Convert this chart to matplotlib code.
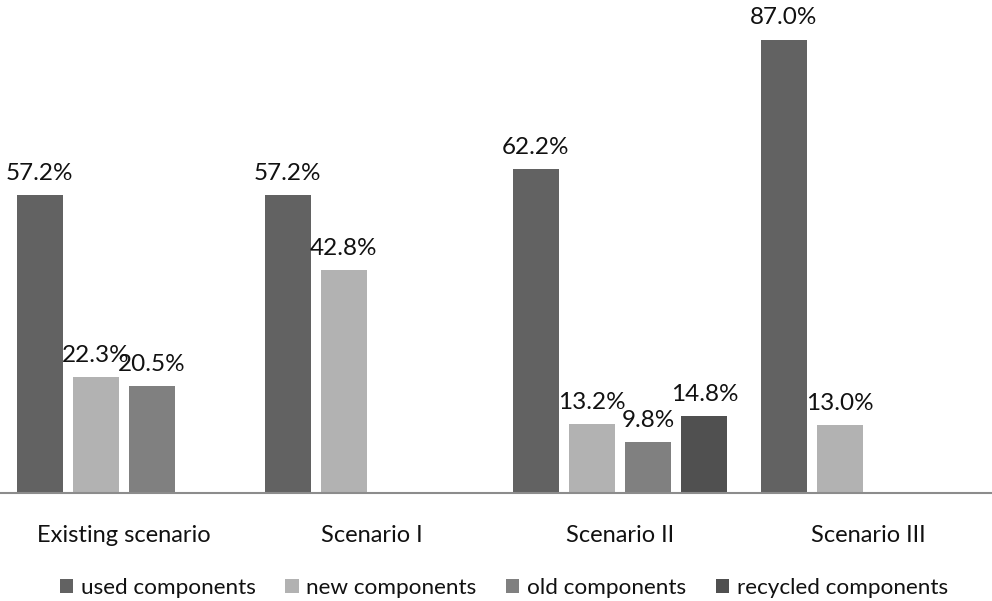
import numpy as np
from matplotlib import pyplot as plt

plt.rcParams['font.family'] = ['Lato', 'DejaVu Sans']

scenarios = ['Existing scenario', 'Scenario I', 'Scenario II', 'Scenario III']
series = ['used components', 'new components', 'old components', 'recycled components']
colors = ['#626262', '#b2b2b2', '#808080', '#505050']

# None = no bar in that slot
used = [57.2, 57.2, 62.2, 87.0]
new = [22.3, 42.8, 13.2, 13.0]
old = [20.5, None, 9.8, None]
recycled = [None, None, 14.8, None]
values = [used, new, old, recycled]

fig = plt.figure(figsize=(9.92, 6.01), dpi=100)
ax = fig.add_axes([0.0, 0.1797, 1.0, 0.8203])

x = np.arange(len(scenarios))
pitch = 0.2268
width = 0.186

for k in range(len(series)):
    xs = []
    hs = []
    for i in range(len(scenarios)):
        if values[k][i] is not None:
            xs.append(x[i] + (k - 1.5) * pitch)
            hs.append(values[k][i])
    ax.bar(xs, hs, width, color=colors[k], label=series[k])
    for xx, hh in zip(xs, hs):
        ax.annotate(f'{hh:.1f}%', (xx, hh), xytext=(0, 8), textcoords='offset points',
                    ha='center', va='bottom', fontsize=17.5, color='#111111')

ax.set_xlim(-0.5, 3.5)
ax.set_ylim(0, 94.6)
ax.set_yticks([])
ax.set_xticks(x)
ax.set_xticklabels(scenarios, fontsize=17, color='#111111')
ax.tick_params(axis='x', length=0, pad=23)
for s in ['top', 'right', 'left']:
    ax.spines[s].set_visible(False)
ax.spines['bottom'].set_color('#8c8c8c')
ax.spines['bottom'].set_linewidth(1.5)

fig.legend(loc='lower center', bbox_to_anchor=(0.508, -0.028), ncol=4, frameon=False,
           fontsize=16.2, handlelength=0.6, handleheight=0.6, handletextpad=0.35,
           columnspacing=1.3, labelcolor='#111111')

plt.savefig('out.png', dpi=100)
